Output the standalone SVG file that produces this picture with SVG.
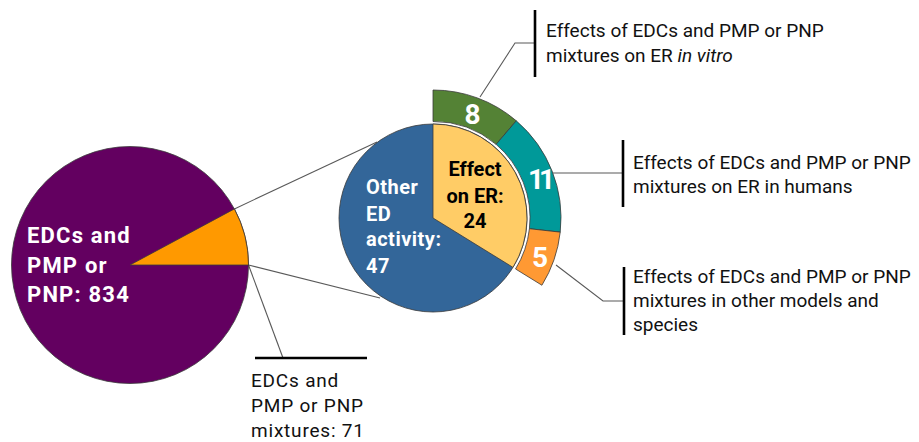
<svg xmlns="http://www.w3.org/2000/svg" width="919" height="442" viewBox="0 0 919 442">
<style>
.conn{fill:none;stroke:#595959;stroke-width:1.1}
.bar{fill:none;stroke:#000;stroke-width:2.6}
.seg{stroke:#3a3a3a;stroke-width:0.8}
.lbl{font-family:Roboto,"Liberation Sans",sans-serif;font-size:19px;fill:#111}
.wb{font-family:Roboto,"Liberation Sans",sans-serif;font-weight:bold;fill:#fff}
.bb{font-family:Roboto,"Liberation Sans",sans-serif;font-weight:bold;fill:#000}
</style>
<rect width="919" height="442" fill="#fff"/>
<g id="connectors">
<line class="conn" x1="234.4" y1="208.9" x2="377" y2="142"/>
<line class="conn" x1="248.5" y1="265" x2="380" y2="298"/>
<line class="conn" x1="248.5" y1="265" x2="283" y2="358"/>
<polyline class="conn" points="480,97 515,43 535,43"/>
<polyline class="conn" points="553,173 623,173"/>
<polyline class="conn" points="556,265 603,301 624,301"/>
</g>
<g id="main-pie">
<circle cx="130" cy="265" r="118.5" fill="#630060" stroke="#3a3a3a" stroke-width="0.8"/>
<text class="wb" font-size="22" letter-spacing="1.2"><tspan x="27" y="243">EDCs and</tspan><tspan x="27" y="273">PMP or</tspan><tspan x="27" y="302">PNP: 834</tspan></text>
</g>
<g id="mixtures-slice">
<path class="seg" d="M130,265 L248.5,265 A118.5,118.5 0 0 0 234.4,208.9 Z" fill="#FF9900"/>
</g>
<g id="mixtures-label">
<line class="bar" x1="255" y1="358" x2="367" y2="358"/>
<text class="lbl" font-size="20" letter-spacing="0.8"><tspan x="251" y="387">EDCs and</tspan><tspan x="251" y="412">PMP or PNP</tspan><tspan x="251" y="437">mixtures: 71</tspan></text>
</g>
<g id="other-ed">
<circle cx="433" cy="218" r="94" fill="#336699" stroke="#3a3a3a" stroke-width="0.8"/>
<text class="wb" font-size="20" letter-spacing="0.5"><tspan x="366" y="194">Other</tspan><tspan x="366" y="221">ED</tspan><tspan x="366" y="246">activity:</tspan><tspan x="366" y="273">47</tspan></text>
</g>
<g id="effect-er">
<path class="seg" d="M433,218 L433,124 A94,94 0 0 1 512.98,267.38 Z" fill="#FFCC66"/>
<text class="bb" font-size="20" text-anchor="middle"><tspan x="475" y="176">Effect</tspan><tspan x="475" y="203">on ER:</tspan><tspan x="475" y="228">24</tspan></text>
</g>
<g id="in-vitro">
<path class="seg" d="M433,90 A128,128 0 0 1 516.28,120.8 L496.11,144.34 A96.5,96.5 0 0 0 433,121.5 Z" fill="#548235"/>
<text class="wb" font-size="28" text-anchor="middle" x="472.5" y="123.5">8</text>
</g>
<g id="humans">
<path class="seg" d="M516.28,120.8 A128,128 0 0 1 560.22,232.13 L529.41,228.71 A96.5,96.5 0 0 0 496.11,144.34 Z" fill="#009999"/>
<text class="wb" font-size="28" text-anchor="middle" x="539" y="189" letter-spacing="-5">11</text>
</g>
<g id="other-models">
<path class="seg" d="M560.22,232.13 A128,128 0 0 1 541.91,285.24 L515.54,268.96 A96.5,96.5 0 0 0 529.41,228.71 Z" fill="#FF9933"/>
<text class="wb" font-size="28" text-anchor="middle" x="540" y="267">5</text>
</g>
<g id="label-in-vitro">
<line class="bar" x1="535" y1="10" x2="535" y2="77"/>
<text class="lbl"><tspan x="546" y="37">Effects of EDCs and PMP or PNP</tspan><tspan x="546" y="62">mixtures on ER <tspan font-style="italic">in vitro</tspan></tspan></text>
</g>
<g id="label-humans">
<line class="bar" x1="623" y1="140" x2="623" y2="207"/>
<text class="lbl"><tspan x="633" y="169">Effects of EDCs and PMP or PNP</tspan><tspan x="633" y="193">mixtures on ER in humans</tspan></text>
</g>
<g id="label-other-models">
<line class="bar" x1="624" y1="267" x2="624" y2="335"/>
<text class="lbl"><tspan x="633" y="283">Effects of EDCs and PMP or PNP</tspan><tspan x="633" y="307">mixtures in other models and</tspan><tspan x="633" y="331">species</tspan></text>
</g>
</svg>
